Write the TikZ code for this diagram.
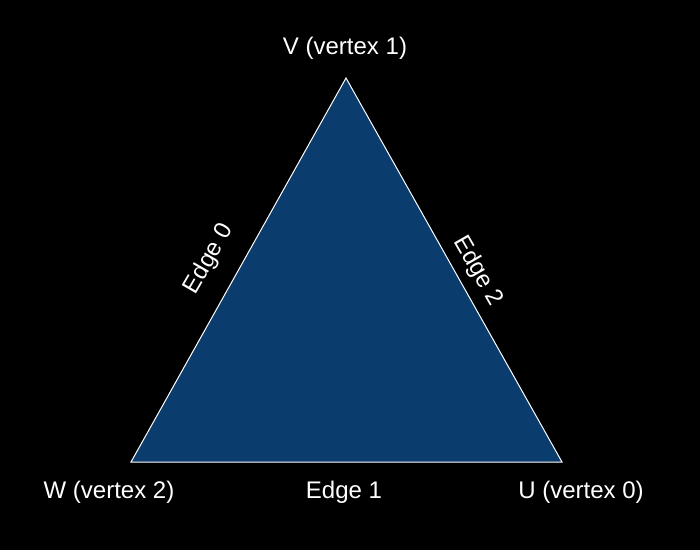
\documentclass[tikz,border=0pt]{standalone}
\usepackage{fontspec}
\setmainfont{Liberation Sans}
\begin{document}
\begin{tikzpicture}[x=1pt,y=-1pt,
  lbl/.style={text=white,font=\fontsize{24}{28}\selectfont,inner sep=0pt}]
\fill[black] (0,0) rectangle (700,550);
\useasboundingbox (0,0) rectangle (700,550);
\coordinate (V) at (346,78);
\coordinate (W) at (131,462);
\coordinate (U) at (562,462);
\draw[white,line width=1pt,fill={rgb,255:red,11;green,60;blue,110}] (V) -- (U) -- (W) -- cycle;
\node[lbl] (lv) at (345,48) {V (vertex 1)};
\node[lbl] (lw) at (109,492) {W (vertex 2)};
\node[lbl] (lu) at (581,492) {U (vertex 0)};
\node[lbl] (e1) at (344,492) {Edge 1};
\node[lbl,rotate=60] (e0) at (209,259) {Edge 0};
\node[lbl,rotate=-60] (e2) at (478,271) {Edge 2};
\end{tikzpicture}
\end{document}
